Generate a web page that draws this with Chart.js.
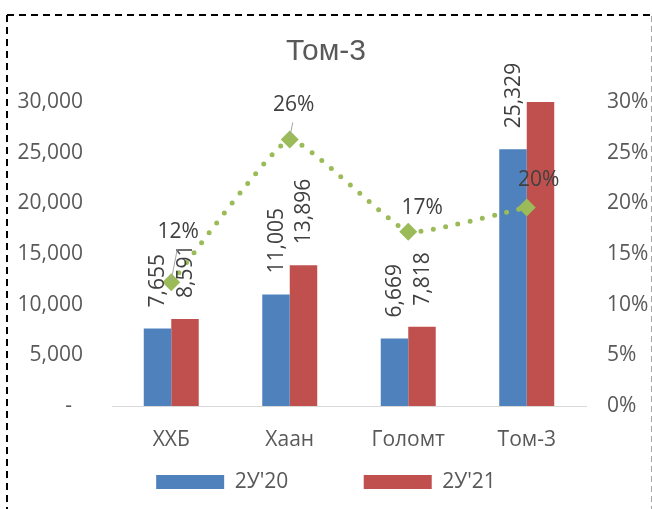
<!DOCTYPE html>
<html><head><meta charset="utf-8">
<script src="https://cdn.jsdelivr.net/npm/chart.js@4.4.0/dist/chart.umd.min.js"></script>
<style>html,body{margin:0;padding:0;background:#fff;}#wrap{width:652px;height:509px;position:relative;}</style>
</head><body><div id="wrap"><canvas id="c" width="652" height="509"></canvas></div>
<script>
const categories = ['ХХБ', 'Хаан', 'Голомт', 'Том-3'];
const seriesNames = ["2У'20", "2У'21"];
const series2020 = [7655, 11005, 6669, 25329];
const series2021 = [8591, 13896, 7818, 30000];
const shareValues = [0.122, 0.263, 0.172, 0.196];
const leftTickLabels = ['-  ', '5,000', '10,000', '15,000', '20,000', '25,000', '30,000'];
const rightTickLabels = ['0%', '5%', '10%', '15%', '20%', '25%', '30%'];

const FONT = '"Open Sans", sans-serif';
// label placement (layout only): [dx, dy, leader?]
const shareLabelPlace = [[7, -50, true], [4, -34, true], [14, -24, false], [12, -27, false]];

const framePlugin = {
  id: 'frame',
  beforeDraw(chart) {
    const ctx = chart.ctx;
    ctx.save();
    ctx.fillStyle = '#fff';
    ctx.fillRect(0, 0, chart.width, chart.height);
    ctx.strokeStyle = '#000'; ctx.lineWidth = 2; ctx.setLineDash([7, 5]);
    ctx.beginPath(); ctx.moveTo(7, 15); ctx.lineTo(652, 15); ctx.stroke();
    ctx.beginPath(); ctx.moveTo(7, 15); ctx.lineTo(7, 509); ctx.stroke();
    ctx.strokeStyle = '#A6A6A6'; ctx.lineWidth = 1; ctx.setLineDash([6, 4]);
    ctx.beginPath(); ctx.moveTo(651.5, 16); ctx.lineTo(651.5, 509); ctx.stroke();
    ctx.restore();
  }
};

const labelPlugin = {
  id: 'valueLabels',
  afterDatasetsDraw(chart) {
    const ctx = chart.ctx;
    ctx.save();
    ctx.font = '21px ' + FONT;
    ctx.fillStyle = '#404040';
    [0, 1].forEach(di => {
      const meta = chart.getDatasetMeta(di);
      meta.data.forEach((bar, i) => {
        const v = chart.data.datasets[di].data[i];
        if (v >= chart.scales.y.max) return;
        ctx.save();
        ctx.translate(bar.x + 1, bar.y - 21);
        ctx.rotate(-Math.PI / 2);
        ctx.textAlign = 'left'; ctx.textBaseline = 'middle';
        ctx.fillText(v.toLocaleString('en-US'), 0, 0);
        ctx.restore();
      });
    });
    const lm = chart.getDatasetMeta(2);
    lm.data.forEach((pt, i) => {
      const p = shareLabelPlace[i];
      const tx = pt.x + p[0], ty = pt.y + p[1];
      if (p[2]) {
        ctx.strokeStyle = '#A6A6A6'; ctx.lineWidth = 1;
        ctx.beginPath(); ctx.moveTo(tx - 1, ty + 17); ctx.lineTo(pt.x, pt.y - 2); ctx.stroke();
      }
      ctx.textAlign = 'center'; ctx.textBaseline = 'middle';
      ctx.fillText(Math.round(chart.data.datasets[2].data[i] * 100) + '%', tx, ty);
    });
    ctx.restore();
  }
};

new Chart(document.getElementById('c'), {
  type: 'bar',
  data: {
    labels: categories,
    datasets: [
      { label: seriesNames[0], data: series2020, backgroundColor: '#4F81BD', yAxisID: 'y', order: 1,
        barPercentage: 1, categoryPercentage: 0.464 },
      { label: seriesNames[1], data: series2021, backgroundColor: '#C0504D', yAxisID: 'y', order: 1,
        barPercentage: 1, categoryPercentage: 0.464 },
      { type: 'line', label: 'share', data: shareValues, yAxisID: 'y1', order: 0,
        borderColor: '#9BBB59', borderWidth: 5, borderDash: [0, 12.5], borderCapStyle: 'round',
        tension: 0.12, pointStyle: 'rectRot', pointRadius: 9, pointBackgroundColor: '#9BBB59',
        pointBorderColor: '#9BBB59', pointBorderWidth: 0, clip: false }
    ]
  },
  options: {
    responsive: false, animation: false, devicePixelRatio: 1,
    layout: { padding: { top: 0, left: 0, right: 0, bottom: 6.5 } },
    plugins: {
      tooltip: { enabled: false },
      title: { display: true, text: 'Том-3', color: '#595959',
        font: { family: '"Liberation Sans", Arial, sans-serif', size: 30, weight: 'normal', lineHeight: 1.2 },
        padding: { top: 33.5, bottom: 32.5 } },
      legend: {
        position: 'bottom',
        labels: {
          boxWidth: 68, boxHeight: 14, padding: 10, color: '#595959',
          font: { family: FONT, size: 21 },
          filter: item => item.datasetIndex < 2,
          generateLabels(chart) {
            const items = Chart.defaults.plugins.legend.labels.generateLabels(chart);
            items.forEach(it => { it.lineWidth = 0; if (it.datasetIndex === 0) it.text = it.text + '            '; });
            return items;
          }
        }
      }
    },
    scales: {
      x: {
        grid: { display: false, drawTicks: false },
        border: { display: true, color: '#D9D9D9', width: 1 },
        ticks: { color: '#595959', font: { family: FONT, size: 21 }, padding: 21, maxRotation: 0 },
        afterFit(s) { s.height = 55.5; }
      },
      y: {
        position: 'left', min: 0, max: 30000,
        grid: { display: false, drawTicks: false }, border: { display: false },
        ticks: { stepSize: 5000, color: '#595959', font: { family: FONT, size: 21 }, padding: 29,
          callback: (v, i) => leftTickLabels[i] },
        afterFit(s) { s.width = 112; }
      },
      y1: {
        position: 'right', min: 0, max: 0.3,
        grid: { display: false, drawTicks: false }, border: { display: false },
        ticks: { stepSize: 0.05, color: '#595959', font: { family: FONT, size: 21 }, padding: 21,
          callback: (v, i) => rightTickLabels[i] },
        afterFit(s) { s.width = 66; }
      }
    }
  },
  plugins: [framePlugin, labelPlugin]
});
</script></body></html>
